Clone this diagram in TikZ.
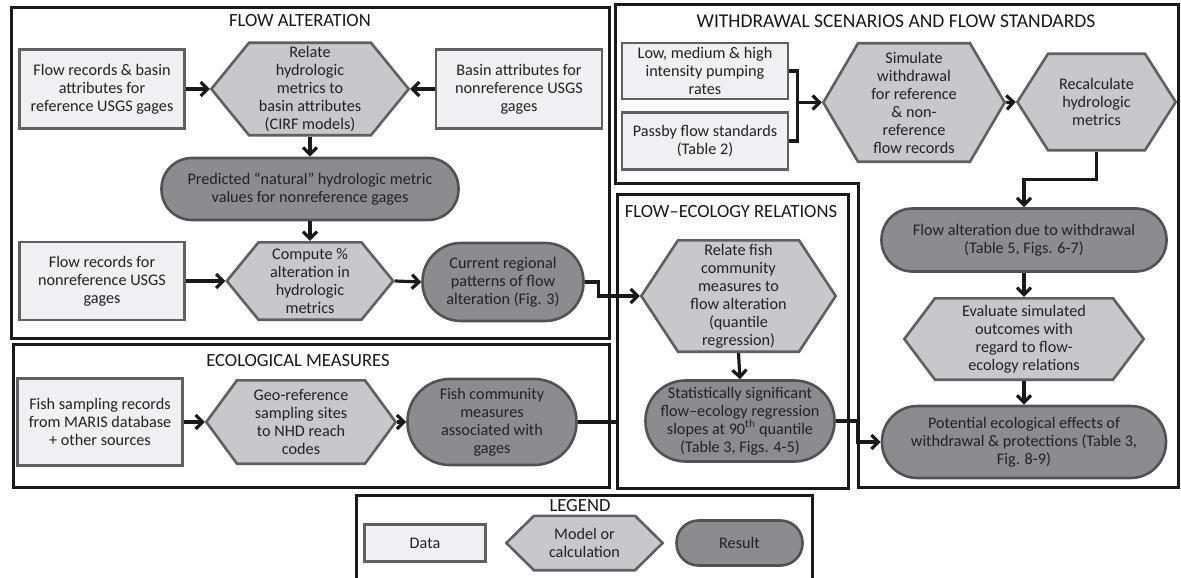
\documentclass[tikz,border=0pt]{standalone}
\usepackage{fontspec}
\setmainfont{Carlito}
\usetikzlibrary{arrows.meta,positioning,calc}
\definecolor{cData}{HTML}{F0F0F2}
\definecolor{cModel}{HTML}{C8C8CA}
\definecolor{cResult}{HTML}{8C8C8E}
\definecolor{cEdge}{HTML}{606060}
\definecolor{cText}{HTML}{222222}

\begin{document}
\begin{tikzpicture}[
  x=1pt, y=-1pt,
  font=\fontsize{16.2}{18}\selectfont, text=cText,
  >={Straight Barb[length=7pt,width=14pt]},
  frame/.style={draw=black!90, line width=3pt, inner sep=0pt},
  title/.style={font=\fontsize{18.6}{20}\selectfont, text=black!90},
  data/.style={rectangle, draw=cEdge, fill=cData, line width=2.6pt, align=center,
               inner sep=0pt},
  model/.style={rectangle, align=center, inner sep=0pt,
    path picture={\draw[draw=cEdge, fill=cModel, line width=2.6pt]
      ([xshift=1.3pt]path picture bounding box.west)
      -- ([xshift=#1, yshift=-1.3pt]path picture bounding box.north west)
      -- ([xshift=-#1, yshift=-1.3pt]path picture bounding box.north east)
      -- ([xshift=-1.3pt]path picture bounding box.east)
      -- ([xshift=-#1, yshift=1.3pt]path picture bounding box.south east)
      -- ([xshift=#1, yshift=1.3pt]path picture bounding box.south west) -- cycle;}},
  model/.default=34pt,
  result/.style={rectangle, rounded corners=#1, draw=cEdge!85!black, fill=cResult,
                 line width=2.6pt, align=center, inner sep=0pt},
  flow/.style={->, line width=3.2pt, draw=black!90},
  link/.style={line width=3.2pt, draw=black!90},
]
\useasboundingbox (0,0) rectangle (1181,578);

% ---------------- frames ----------------
\node (fa) [frame, anchor=north west, minimum width=598, minimum height=331] at (10,6) {};
\node (em) [frame, anchor=north west, minimum width=596, minimum height=143] at (12,343) {};
\node (fe) [frame, anchor=north west, minimum width=231, minimum height=294] at (616,193) {};
\node (lg) [frame, anchor=north west, minimum width=456, minimum height=130] at (355,494) {};
\draw[frame] (615,5) -- (1178,5) -- (1178,487) -- (858,487) -- (858,183) -- (615,183) -- cycle;

\node (faT) [title] at (300,21) {FLOW ALTERATION};
\node (emT) [title] at (298,361) {ECOLOGICAL MEASURES};
\node (wdT) [title, font=\fontsize{19.5}{21}\selectfont] at (896,21)
  {WITHDRAWAL SCENARIOS AND FLOW STANDARDS};
\node (feT) [title] at (731,212) {FLOW–ECOLOGY RELATIONS};
\node (lgT) [title] at (580,506) {LEGEND};

% ---------------- flow alteration ----------------
\node (dRef) [data, minimum width=165, minimum height=79] at (102,89)
  {Flow records \& basin\\attributes for\\reference USGS gages};
\node (hRel) [model=39pt, minimum width=200, minimum height=95] at (310,89)
  {Relate\\hydrologic\\metrics to\\basin attributes\\(CIRF models)};
\node (dNonref) [data, minimum width=166, minimum height=79] at (519,89)
  {Basin attributes for\\nonreference USGS\\gages};
\node (rPred) [result=30.5pt, minimum width=297, minimum height=62] at (310,189)
  {Predicted “natural” hydrologic metric\\values for nonreference gages};
\node (dFlow) [data, minimum width=165, minimum height=78] at (102,281)
  {Flow records for\\nonreference USGS\\gages};
\node (hComp) [model=33pt, minimum width=169, minimum height=80] at (310,281)
  {Compute \%\\alteration in\\hydrologic\\metrics};
\node (rCur) [result=38.5pt, minimum width=161, minimum height=78] at (503,282)
  {Current regional\\patterns of flow\\alteration (Fig. 3)};

\draw[flow] (dRef.east) -- (hRel.west);
\draw[flow] (dNonref.west) -- (hRel.east);
\draw[flow] (hRel.south) -- (rPred.north);
\draw[flow] (rPred.south) -- (hComp.north);
\draw[flow] (dFlow.east) -- (hComp.west);
\draw[flow] (hComp.east) -- (rCur.west);

% ---------------- ecological measures ----------------
\node (dFish) [data, minimum width=165, minimum height=87] at (100,422)
  {Fish sampling records\\from MARIS database\\+ other sources};
\node (hGeo) [model=32pt, minimum width=192, minimum height=86] at (301,422)
  {Geo-reference\\sampling sites\\to NHD reach\\codes};
\node (rComm) [result=42.5pt, minimum width=169, minimum height=86] at (492,422)
  {Fish community\\measures\\associated with\\gages};

\draw[flow] (dFish.east) -- (hGeo.west);
\draw[flow] (hGeo.east) -- (rComm.west);
\draw[link] (rComm.east) -- (rComm.east -| fe.west);

% ---------------- withdrawal scenarios ----------------
\node (dPump) [data, minimum width=166, minimum height=56] at (705,71)
  {Low, medium \& high\\intensity pumping\\rates};
\node (dPass) [data, minimum width=166, minimum height=57] at (705,141)
  {Passby flow standards\\(Table 2)};
\node (hSim) [model=36pt, minimum width=184, minimum height=121] at (914,102.5)
  {Simulate\\withdrawal\\for reference\\\& non-\\reference\\flow records};
\node (hRecalc) [model=32pt, minimum width=161, minimum height=99] at (1096.5,102)
  {Recalculate\\hydrologic\\metrics};
\node (rWd) [result=31pt, minimum width=285, minimum height=63] at (1024,240)
  {Flow alteration due to withdrawal\\(Table 5, Figs. 6-7)};
\node (hEval) [model=32pt, minimum width=242, minimum height=84] at (1024,339)
  {Evaluate simulated\\outcomes with\\regard to flow-\\ecology relations};
\node (rPot) [result=35.5pt, minimum width=284, minimum height=72] at (1024,442)
  {Potential ecological effects of\\withdrawal \& protections (Table 3,\\Fig. 8-9)};

\coordinate (jn) at ($(hSim.west)+(-24,0)$);
\draw[link] (dPump.east) -| (jn) |- (dPass.east);
\draw[flow] (jn) -- (hSim.west);
\draw[flow] (hSim.east) -- (hRecalc.west);
\draw[flow] (hRecalc.south) -- ++(0,28) -| (rWd.north);
\draw[flow] (rWd.south) -- (hEval.north);
\draw[flow] (hEval.south) -- (rPot.north);

% ---------------- flow-ecology relations ----------------
\node (hFish) [model=38pt, minimum width=197, minimum height=114] at (738.5,296)
  {Relate fish\\community\\measures to\\flow alteration\\(quantile\\regression)};
\node (rStat) [result=40pt, minimum width=189, minimum height=81] at (740,421)
  {Statistically significant\\flow–ecology regression\\slopes at 90\textsuperscript{th} quantile\\(Table 3, Figs. 4-5)};

\draw[flow] (rCur.east) -- ++(14,0) |- (hFish.west);
\draw[flow] (hFish.south) -- (rStat.north);
\draw[flow] (rStat.east) -- ++(22,0) |- (rPot.west);

% ---------------- legend ----------------
\node (lData) [data, minimum width=121, minimum height=37] at (425,543) {Data};
\node (lModel) [model=29pt, minimum width=159, minimum height=57, right=18pt of lData]
  {Model or\\calculation};
\node (lResult) [result=22pt, minimum width=126, minimum height=45, right=11pt of lModel]
  {Result};

\end{tikzpicture}
\end{document}
